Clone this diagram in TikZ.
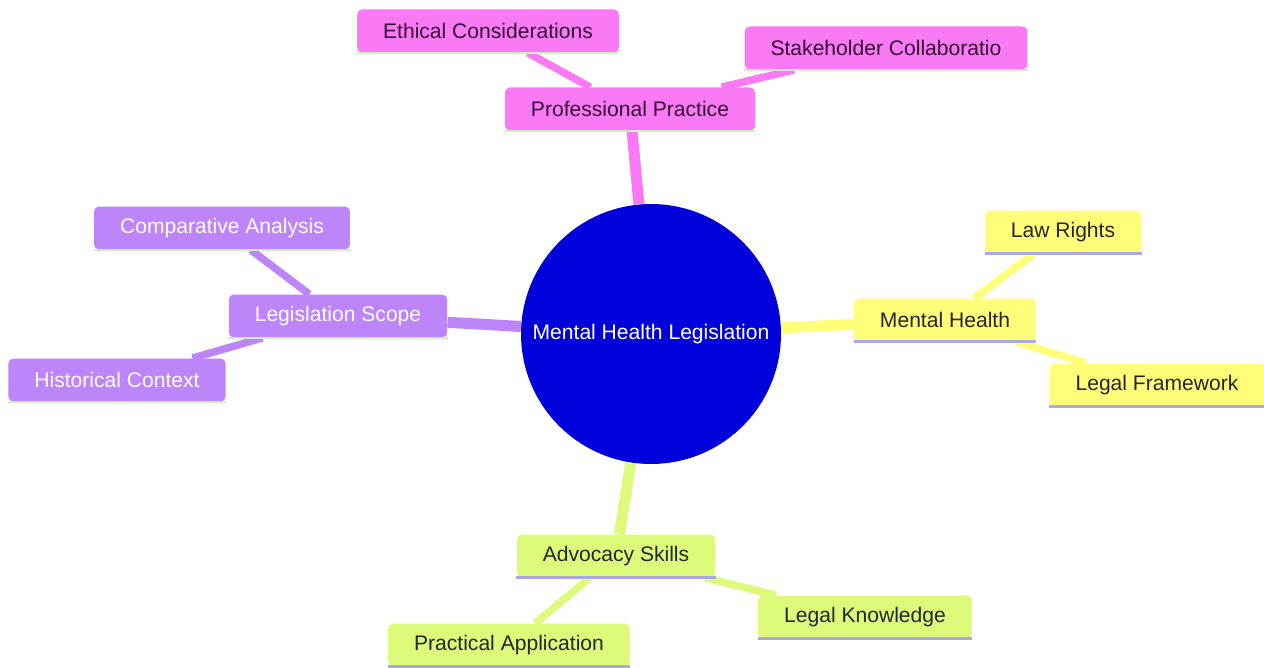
\documentclass[tikz,border=0pt]{standalone}
\usepackage{fontspec}
\setmainfont{Liberation Sans}
\usepackage{xcolor}
\usepackage{tikz}
\usetikzlibrary{backgrounds}

\definecolor{pinkfill}{RGB}{250,122,246}
\definecolor{purplefill}{RGB}{190,132,250}
\definecolor{yellowfill}{RGB}{255,255,122}
\definecolor{greenfill}{RGB}{222,250,122}
\definecolor{rootblue}{RGB}{0,0,218}
\definecolor{lineA}{RGB}{200,240,190}
\definecolor{lineB}{RGB}{168,168,232}
\definecolor{darktext}{RGB}{50,10,50}

\begin{document}
\begin{tikzpicture}[x=0.02cm, y=-0.02cm,
  mapbox/.style={rectangle, rounded corners=0.1cm, inner xsep=0.52cm,
    minimum height=0.86cm, font=\fontsize{12}{14}\selectfont},
  pinkbox/.style={mapbox, fill=pinkfill, text=darktext},
  purplebox/.style={mapbox, fill=purplefill, text=white},
  yellowbox/.style={mapbox, fill=yellowfill, text=black!85},
  greenbox/.style={mapbox, fill=greenfill, text=black!85},
  trunk/.style={line width=0.22cm},
  twig/.style={line width=0.15cm}]
\useasboundingbox (0,0) rectangle (1264,668);

% root
\node[circle, fill=rootblue, minimum size=5.2cm, text=white,
  font=\fontsize{12}{14}\selectfont] (root) at (651,334) {Mental Health Legislation};

% branches
\node[pinkbox] (prof) at (630,109) {Professional Practice};
\node[pinkbox] (ethic) at (488,31) {Ethical Considerations};
\node[pinkbox] (stake) at (886,48) {Stakeholder Collaboratio};

\node[purplebox] (scope) at (338,316) {Legislation Scope};
\node[purplebox] (compar) at (222,228) {Comparative Analysis};
\node[purplebox] (hist) at (117,380) {Historical Context};

\node[yellowbox] (mental) at (945,320) {Mental Health};
\node[yellowbox] (rights) at (1063,232) {Law Rights};
\node[yellowbox] (frame) at (1157,385) {Legal Framework};

\node[greenbox] (advoc) at (616,556) {Advocacy Skills};
\node[greenbox] (practic) at (509,645) {Practical Application};
\node[greenbox] (know) at (865,617) {Legal Knowledge};

% connectors
\begin{scope}[on background layer]
\fill[white] (0,0) rectangle (1264,668);
\draw[trunk, draw=pinkfill] (root) -- (prof);
\draw[twig, draw=pinkfill] (prof) -- (ethic);
\draw[twig, draw=pinkfill] (prof) -- (stake);
\draw[trunk, draw=purplefill] (root) -- (scope);
\draw[twig, draw=purplefill] (scope) -- (compar);
\draw[twig, draw=purplefill] (scope) -- (hist);
\draw[trunk, draw=yellowfill] (root) -- (mental);
\draw[twig, draw=yellowfill] (mental) -- (rights);
\draw[twig, draw=yellowfill] (mental) -- (frame);
\draw[trunk, draw=greenfill] (root) -- (advoc);
\draw[twig, draw=greenfill] (advoc) -- (practic);
\draw[twig, draw=greenfill] (advoc) -- (know);
\end{scope}

% underlines
\foreach \n in {prof, ethic, stake, scope, compar, hist}
  \draw[lineA, line width=0.05cm] (\n.south west) -- (\n.south east);
\foreach \n in {mental, rights, frame, advoc, practic, know}
  \draw[lineB, line width=0.06cm] (\n.south west) -- (\n.south east);
\end{tikzpicture}
\end{document}
